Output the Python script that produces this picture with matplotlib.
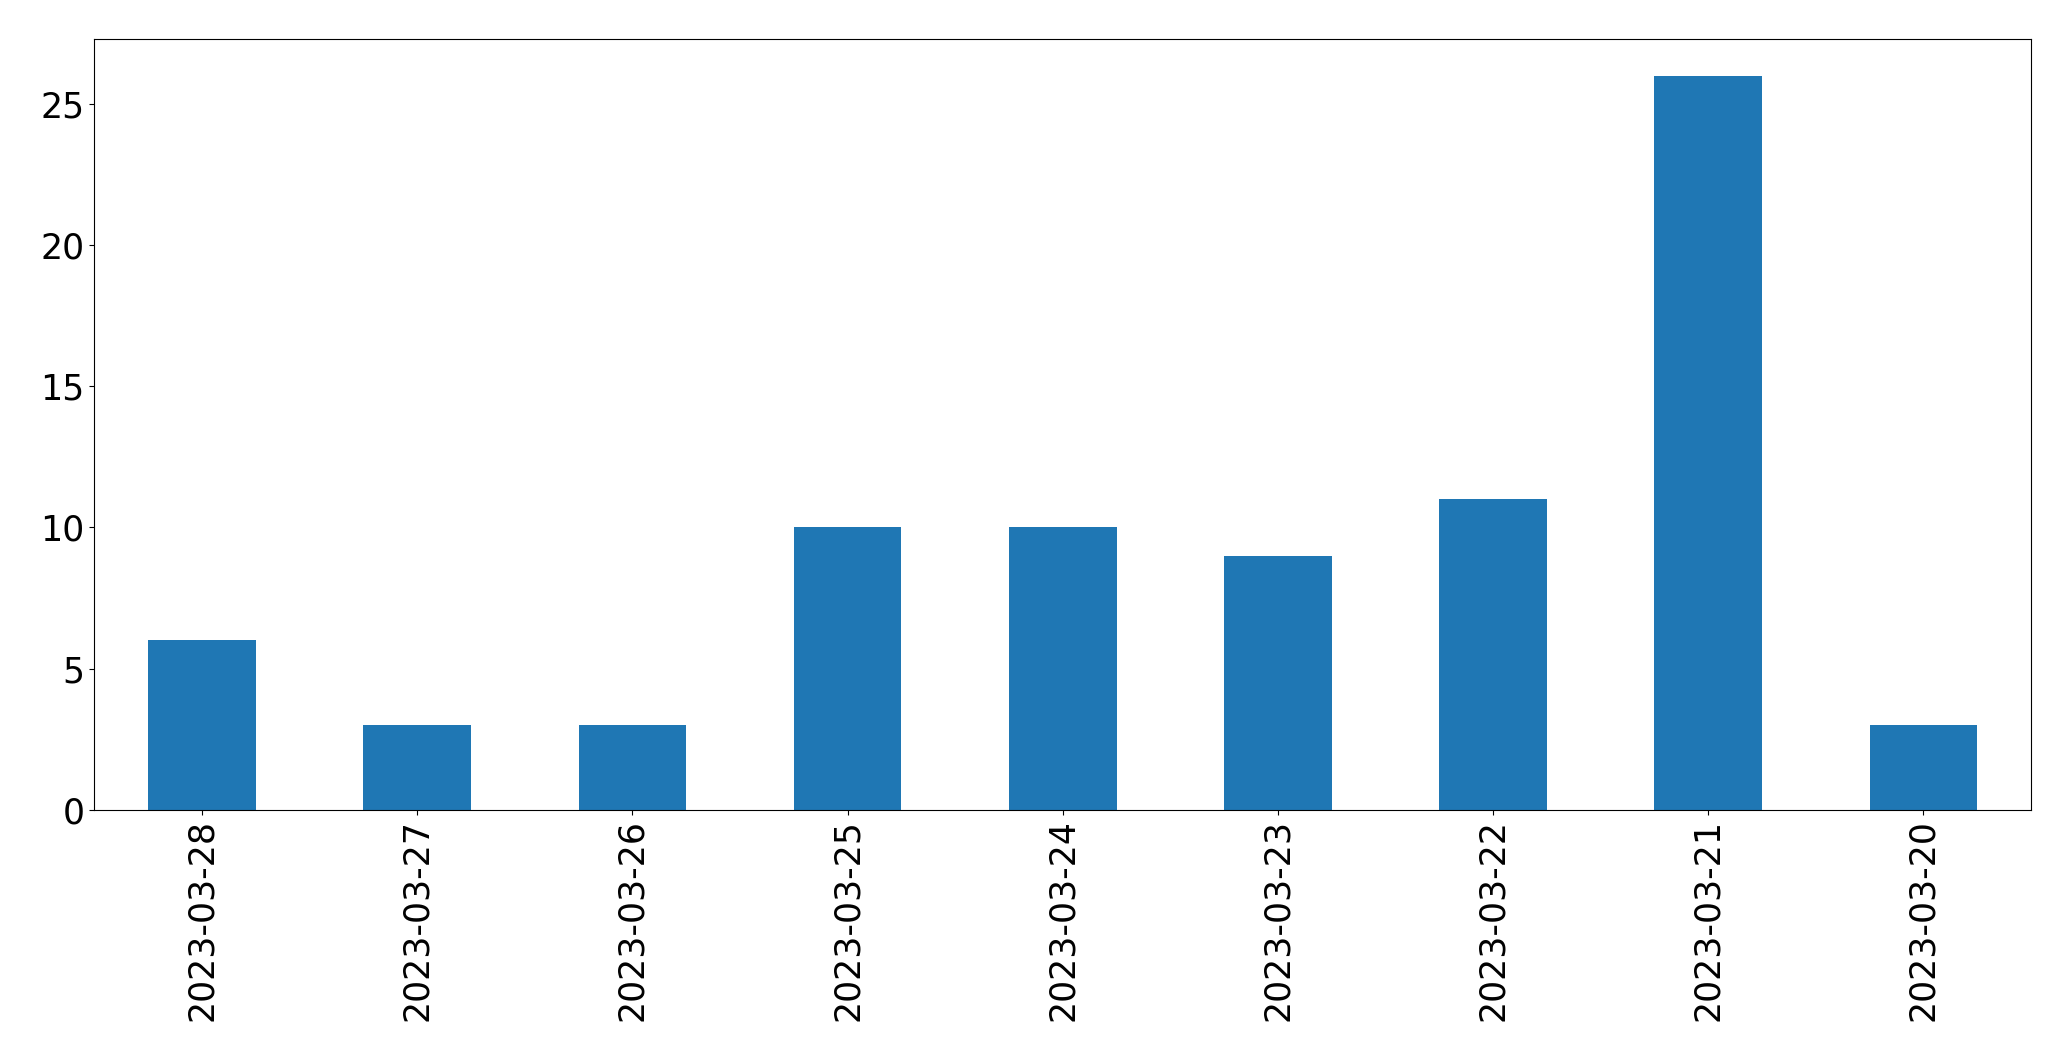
import matplotlib

matplotlib.use("Agg")
import matplotlib.pyplot as plt
import pandas as pd

dates = ["2023-03-28", "2023-03-27", "2023-03-26", "2023-03-25", "2023-03-24",
         "2023-03-23", "2023-03-22", "2023-03-21", "2023-03-20"]
counts = [6, 3, 3, 10, 10, 9, 11, 26, 3]

series = pd.Series(counts, index=dates)

fig, ax = plt.subplots(figsize=(20.71, 10.61), dpi=100)
fig.subplots_adjust(left=0.0456, right=0.9807, top=0.9628, bottom=0.2370)
series.plot.bar(ax=ax, color="#1f77b4", fontsize=25)
ax.set_xlabel("")

fig.savefig("out.png", dpi=100)
plt.close(fig)
